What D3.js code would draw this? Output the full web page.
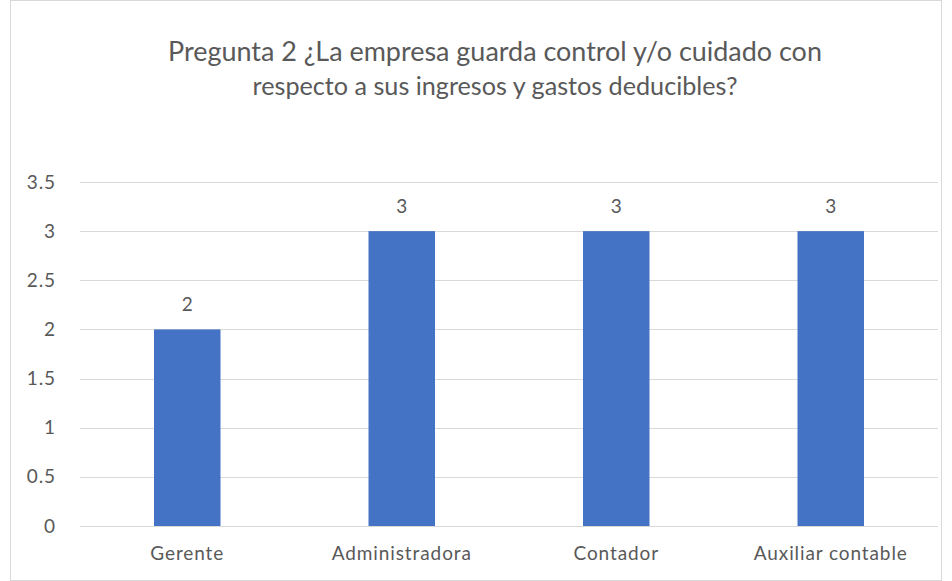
<!DOCTYPE html>
<html>
<head>
<meta charset="utf-8">
<script src="https://cdn.jsdelivr.net/npm/d3@7"></script>
<style>
  body { margin: 0; background: #fff; }
  text { font-family: Lato, "Open Sans", sans-serif; fill: #595959; }
</style>
</head>
<body>
<div id="chart"></div>
<script>
// chart data
const titleLines = ["Pregunta 2 ¿La empresa guarda control y/o cuidado con",
                    "respecto a sus ingresos y gastos deducibles?"];
const categories = ["Gerente", "Administradora", "Contador", "Auxiliar contable"];
const values = [2, 3, 3, 3];
const yTicks = [0, 0.5, 1, 1.5, 2, 2.5, 3, 3.5];

const width = 952, height = 581;
const margin = { top: 182, right: 14, bottom: 55, left: 80 };
const labelFont = "19px";
const labelSpacing = "0.9px";

let svg = d3.select("#chart").append("svg")
    .attr("width", width)
    .attr("height", height);

// outer border
svg.append("rect")
    .attr("x", 10.5).attr("y", 0.5)
    .attr("width", 931).attr("height", 580)
    .attr("fill", "#fff")
    .attr("stroke", "#d9d9d9");

// title
const titleW = [654, 485];
svg.selectAll(".title")
    .data(titleLines)
    .enter().append("text")
    .attr("class", "title")
    .attr("x", 495)
    .attr("y", (d, i) => 61 + i * 34)
    .attr("text-anchor", "middle")
    .style("font-size", "22px")
    .text(d => d)
    .each(function (d, i) {
        // shrink/grow a bit so the line width is close to the original
        const w = this.getComputedTextLength();
        d3.select(this).style("font-size", (22 * titleW[i] / w).toFixed(2) + "px");
    });

let x = d3.scaleBand()
    .domain(categories)
    .range([margin.left, width - margin.right])
    .paddingInner(0.69)
    .paddingOuter(0.345);

let y = d3.scaleLinear()
    .domain([0, 3.5])
    .range([height - margin.bottom, margin.top]);

// gridlines
svg.append("g")
    .selectAll("line")
    .data(yTicks)
    .enter().append("line")
    .attr("x1", margin.left).attr("x2", width - margin.right)
    .attr("y1", d => Math.round(y(d)) + 0.5).attr("y2", d => Math.round(y(d)) + 0.5)
    .attr("stroke", "#d9d9d9")
    .attr("stroke-width", 1);

// y axis labels
let yAxis = svg.append("g")
    .attr("transform", "translate(" + (margin.left - 24) + ",0)")
    .call(d3.axisLeft(y).tickValues(yTicks).tickSize(0).tickPadding(0).tickFormat(d3.format("")));
yAxis.select(".domain").remove();
yAxis.selectAll("text")
    .style("font-size", labelFont)
    .style("letter-spacing", labelSpacing)
    .style("font-family", "Lato, sans-serif")
    .attr("fill", "#595959");

// x axis labels
let xAxis = svg.append("g")
    .attr("transform", "translate(0," + (height - margin.bottom) + ")")
    .call(d3.axisBottom(x).tickSize(0).tickPadding(21));
xAxis.select(".domain").remove();
xAxis.selectAll("text")
    .style("font-size", labelFont)
    .style("letter-spacing", labelSpacing)
    .style("font-family", "Lato, sans-serif")
    .attr("fill", "#595959");

// bars
svg.append("g")
    .selectAll("rect")
    .data(values)
    .enter().append("rect")
    .attr("x", (d, i) => x(categories[i]))
    .attr("y", d => y(d))
    .attr("width", x.bandwidth())
    .attr("height", d => y(0) - y(d))
    .attr("fill", "#4472c4");

// data labels
svg.append("g")
    .selectAll("text")
    .data(values)
    .enter().append("text")
    .attr("x", (d, i) => x(categories[i]) + x.bandwidth() / 2)
    .attr("y", d => y(d) - 18)
    .attr("text-anchor", "middle")
    .style("font-size", labelFont)
    .text(d => d);
</script>
</body>
</html>
